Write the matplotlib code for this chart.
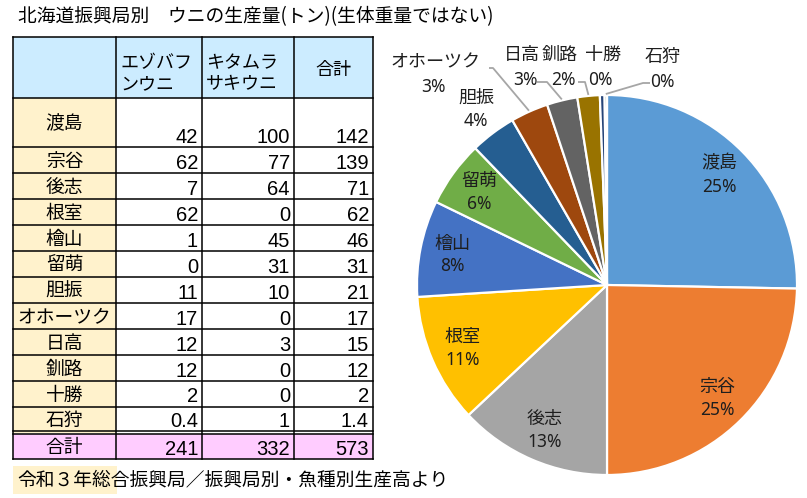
import numpy as np
import matplotlib
matplotlib.use("Agg")
import matplotlib.pyplot as plt
from matplotlib.patches import Rectangle

plt.rcParams['font.family'] = ['Noto Sans CJK JP', 'DejaVu Sans']

# table data (tons)
regions = ['渡島', '宗谷', '後志', '根室', '檜山', '留萌', '胆振', 'オホーツク', '日高', '釧路', '十勝', '石狩']
ezo = [42, 62, 7, 62, 1, 0, 11, 17, 12, 12, 2, 0.4]
kita = [100, 77, 64, 0, 45, 31, 10, 0, 3, 0, 0, 1]
totals = [142, 139, 71, 62, 46, 31, 21, 17, 15, 12, 2, 1.4]
sum_row = [241, 332, 573]

# pie shares as drawn (percent)
pie_share = [25.3, 24.7, 13.0, 11.0, 8.2, 5.6, 3.9, 3.2, 2.6, 1.9, 0.4, 0.2]
pie_colors = ['#5B9BD5', '#ED7D31', '#A5A5A5', '#FFC000', '#4472C4', '#70AD47',
              '#255E91', '#9E480E', '#636363', '#997300', '#264478', '#43682B']

W, H = 807, 498
fig = plt.figure(figsize=(W / 100, H / 100), dpi=100)
ax = fig.add_axes([0, 0, 1, 1])

# ---- pie (pixel coords, y down) ----
cx, cy, R = 607, 285, 190
wedges, _ = ax.pie(pie_share, colors=pie_colors, startangle=-90, counterclock=True,
                   center=(cx, cy), radius=R,
                   wedgeprops=dict(edgecolor='white', linewidth=1.6))
ax.set_xlim(0, W)
ax.set_ylim(H, 0)
ax.axis('off')

total_share = sum(pie_share)
pct_labels = ['{}%'.format(int(v / total_share * 100 + 0.5)) for v in pie_share]
lab_col = '#1e1e1e'
pct_font = ['Noto Sans', 'DejaVu Sans']

def edge_point(w, rr):
    t = np.radians((w.theta1 + w.theta2) / 2)
    return cx + rr * np.cos(t), cy + rr * np.sin(t)

# labels inside the big slices
for i in range(6):
    x, y = edge_point(wedges[i], R * 0.83)
    ax.text(x, y - 11, regions[i], ha='center', va='center', fontsize=13, color=lab_col)
    ax.text(x, y + 12, pct_labels[i], ha='center', va='center', fontsize=12.5,
            color=lab_col, family=pct_font)

# outside labels: (name pos, pct pos, leader start points)
outside = {
    6: ((476, 98), (476, 121), None),
    7: ((435, 62), (433, 87), [(489, 68), (493, 68)]),
    8: ((522, 55), (525, 80), [(537, 82), (547, 82)]),
    9: ((560, 55), (563, 80), [(578, 82), (585, 82)]),
    10: ((603, 55), (600, 80), None),
    11: ((663, 57), (662, 82), [(650, 83), (643, 83)]),
}
for i, (npos, ppos, lead) in outside.items():
    ax.text(npos[0], npos[1], regions[i], ha='center', va='center', fontsize=13, color=lab_col)
    ax.text(ppos[0], ppos[1], pct_labels[i], ha='center', va='center', fontsize=12.5,
            color=lab_col, family=pct_font)
    if lead:
        ex, ey = edge_point(wedges[i], R + 1)
        xs = [p[0] for p in lead] + [ex]
        ys = [p[1] for p in lead] + [ey]
        ax.plot(xs, ys, color='#A6A6A6', lw=1.3, solid_capstyle='butt')

# ---- title ----
ax.text(18, 17, '北海道振興局別　ウニの生産量(トン)(生体重量ではない)', ha='left', va='center',
        fontsize=13.5, color='black')

# ---- table ----
col_x = [13, 116, 202, 294, 373]
row_edges = [37, 98] + [147 + 26 * k for k in range(12)]
tot_top, tot_bot = 434.5, 459
header_bg = '#CCECFF'
label_bg = '#FFF2CC'
total_bg = '#FFCCFF'

ax.add_patch(Rectangle((col_x[0], row_edges[0]), col_x[-1] - col_x[0], row_edges[1] - row_edges[0],
                       facecolor=header_bg, edgecolor='none'))
ax.add_patch(Rectangle((col_x[0], row_edges[1]), col_x[1] - col_x[0], row_edges[-1] - row_edges[1],
                       facecolor=label_bg, edgecolor='none'))
ax.add_patch(Rectangle((col_x[0], tot_top), col_x[-1] - col_x[0], tot_bot - tot_top,
                       facecolor=total_bg, edgecolor='none'))

lw = 1.1
for x in col_x:
    ax.plot([x, x], [row_edges[0], tot_bot], color='black', lw=lw)
for y in row_edges[:-1]:
    ax.plot([col_x[0], col_x[-1]], [y, y], color='black', lw=lw)
for y in [431.5, tot_top, tot_bot]:
    ax.plot([col_x[0], col_x[-1]], [y, y], color='black', lw=lw)

# header text
ax.text(120, 63, 'エゾバフ', ha='left', va='center', fontsize=13)
ax.text(120, 84, 'ンウニ', ha='left', va='center', fontsize=13)
ax.text(206, 63, 'キタムラ', ha='left', va='center', fontsize=13)
ax.text(206, 84, 'サキウニ', ha='left', va='center', fontsize=13)
ax.text((col_x[3] + col_x[4]) / 2, 70, '合計', ha='center', va='center', fontsize=13)

num_font = ['Liberation Sans', 'DejaVu Sans']

def fmt(v):
    return '{:g}'.format(v)

for r, name in enumerate(regions):
    top, bot = row_edges[r + 1], row_edges[r + 2]
    if r == len(regions) - 1:
        bot = 431.5
    ax.text((col_x[0] + col_x[1]) / 2, (top + bot) / 2 + 1, name, ha='center', va='center', fontsize=13.5)
    for c, vals in enumerate([ezo, kita, totals]):
        ax.text(col_x[c + 2] - 4, bot - 4.5, fmt(vals[r]), ha='right', va='baseline',
                fontsize=14.5, family=num_font)

ax.text((col_x[0] + col_x[1]) / 2, (tot_top + tot_bot) / 2 + 1, '合計', ha='center', va='center', fontsize=13.5)
for c, v in enumerate(sum_row):
    ax.text(col_x[c + 2] - 4, tot_bot - 4, fmt(v), ha='right', va='baseline',
            fontsize=14.5, family=num_font)

# ---- footnote ----
ax.add_patch(Rectangle((13, 466), 104, 28, facecolor=label_bg, edgecolor='none'))
ax.text(17, 480, '令和３年総合振興局／振興局別・魚種別生産高より', ha='left', va='center', fontsize=13.5)

fig.savefig('out.png', dpi=100)
